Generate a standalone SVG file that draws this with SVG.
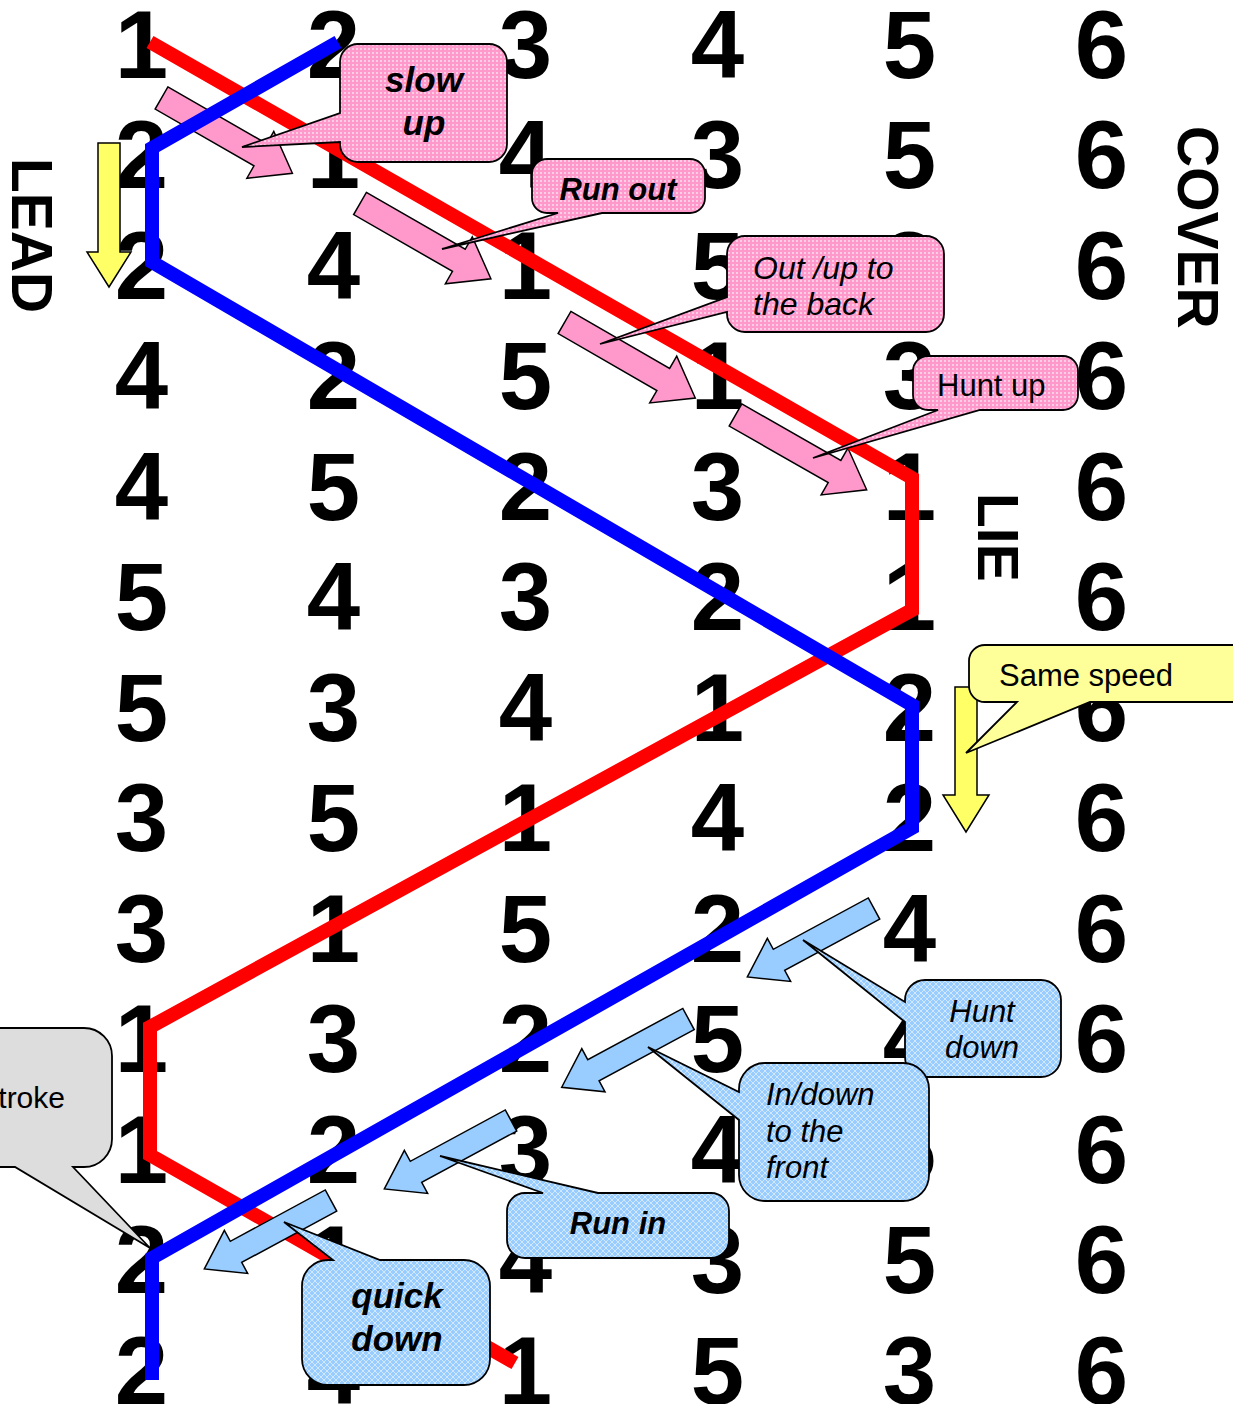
<svg xmlns="http://www.w3.org/2000/svg" xmlns:xlink="http://www.w3.org/1999/xlink" width="1233" height="1404" viewBox="0 0 1233 1404">
<defs>
<pattern id="pinkDots" width="4" height="4" patternUnits="userSpaceOnUse">
<rect width="4" height="4" fill="#FF99CC"/>
<circle cx="1" cy="1" r="0.9" fill="#FFFFFF" opacity="0.75"/>
</pattern>
<pattern id="blueHatch" width="6" height="6" patternUnits="userSpaceOnUse">
<rect width="6" height="6" fill="#99CCFF"/>
<path d="M0,0 L6,6 M6,0 L0,6" stroke="#FFFFFF" stroke-width="0.8" opacity="0.7"/>
</pattern>
<polygon id="pinkArrow" points="0,-12.75 114,-12.75 114,-27 151,0 114,27 114,12.75 0,12.75"/>
<polygon id="blueArrow" points="0,-12 108,-12 108,-24.5 144,0 108,24.5 108,12 0,12"/>
</defs>
<style>
.num{font-family:"Liberation Sans",Arial,sans-serif;font-weight:bold;font-size:96px;fill:#000;text-anchor:middle}
.lab{font-family:"Liberation Sans",Arial,sans-serif;font-weight:bold;font-size:57px;fill:#000}
.pa{fill:#FF99CC;stroke:#000;stroke-width:1.5;stroke-linejoin:miter}
.ba{fill:#99CCFF;stroke:#000;stroke-width:1.5;stroke-linejoin:miter}
.ya{fill:#FFFF66;stroke:#000;stroke-width:1.5}
.line{fill:none;stroke-width:14;stroke-linejoin:miter;stroke-linecap:butt}
.cp{fill:url(#pinkDots);stroke:#000;stroke-width:1.8}
.cb{fill:url(#blueHatch);stroke:#000;stroke-width:1.8}
.cy{fill:#FFFF99;stroke:#000;stroke-width:1.8}
.cg{fill:#DDDDDD;stroke:#000;stroke-width:1.8}
.t{font-family:"Liberation Sans",Arial,sans-serif;font-size:30px;fill:#000}
.big{font-size:35px}
.s31{font-size:31px}
.s32{font-size:32px}
.bi{font-weight:bold;font-style:italic}
.i{font-style:italic}
</style>
<rect width="1233" height="1404" fill="#FFFFFF"/>
<g id="grid">
<g id="row1"><text class="num" x="141.5" y="77.5">1</text><text class="num" x="333.5" y="77.5">2</text><text class="num" x="525.5" y="77.5">3</text><text class="num" x="717.5" y="77.5">4</text><text class="num" x="909.5" y="77.5">5</text><text class="num" x="1101.5" y="77.5">6</text></g>
<g id="row2"><text class="num" x="141.5" y="188">2</text><text class="num" x="333.5" y="188">1</text><text class="num" x="525.5" y="188">4</text><text class="num" x="717.5" y="188">3</text><text class="num" x="909.5" y="188">5</text><text class="num" x="1101.5" y="188">6</text></g>
<g id="row3"><text class="num" x="141.5" y="298.5">2</text><text class="num" x="333.5" y="298.5">4</text><text class="num" x="525.5" y="298.5">1</text><text class="num" x="717.5" y="298.5">5</text><text class="num" x="909.5" y="298.5">3</text><text class="num" x="1101.5" y="298.5">6</text></g>
<g id="row4"><text class="num" x="141.5" y="409">4</text><text class="num" x="333.5" y="409">2</text><text class="num" x="525.5" y="409">5</text><text class="num" x="717.5" y="409">1</text><text class="num" x="909.5" y="409">3</text><text class="num" x="1101.5" y="409">6</text></g>
<g id="row5"><text class="num" x="141.5" y="519.5">4</text><text class="num" x="333.5" y="519.5">5</text><text class="num" x="525.5" y="519.5">2</text><text class="num" x="717.5" y="519.5">3</text><text class="num" x="909.5" y="519.5">1</text><text class="num" x="1101.5" y="519.5">6</text></g>
<g id="row6"><text class="num" x="141.5" y="630">5</text><text class="num" x="333.5" y="630">4</text><text class="num" x="525.5" y="630">3</text><text class="num" x="717.5" y="630">2</text><text class="num" x="909.5" y="630">1</text><text class="num" x="1101.5" y="630">6</text></g>
<g id="row7"><text class="num" x="141.5" y="740.5">5</text><text class="num" x="333.5" y="740.5">3</text><text class="num" x="525.5" y="740.5">4</text><text class="num" x="717.5" y="740.5">1</text><text class="num" x="909.5" y="740.5">2</text><text class="num" x="1101.5" y="740.5">6</text></g>
<g id="row8"><text class="num" x="141.5" y="851">3</text><text class="num" x="333.5" y="851">5</text><text class="num" x="525.5" y="851">1</text><text class="num" x="717.5" y="851">4</text><text class="num" x="909.5" y="851">2</text><text class="num" x="1101.5" y="851">6</text></g>
<g id="row9"><text class="num" x="141.5" y="961.5">3</text><text class="num" x="333.5" y="961.5">1</text><text class="num" x="525.5" y="961.5">5</text><text class="num" x="717.5" y="961.5">2</text><text class="num" x="909.5" y="961.5">4</text><text class="num" x="1101.5" y="961.5">6</text></g>
<g id="row10"><text class="num" x="141.5" y="1072">1</text><text class="num" x="333.5" y="1072">3</text><text class="num" x="525.5" y="1072">2</text><text class="num" x="717.5" y="1072">5</text><text class="num" x="909.5" y="1072">4</text><text class="num" x="1101.5" y="1072">6</text></g>
<g id="row11"><text class="num" x="141.5" y="1182.5">1</text><text class="num" x="333.5" y="1182.5">2</text><text class="num" x="525.5" y="1182.5">3</text><text class="num" x="717.5" y="1182.5">4</text><text class="num" x="909.5" y="1182.5">5</text><text class="num" x="1101.5" y="1182.5">6</text></g>
<g id="row12"><text class="num" x="141.5" y="1293">2</text><text class="num" x="333.5" y="1293">1</text><text class="num" x="525.5" y="1293">4</text><text class="num" x="717.5" y="1293">3</text><text class="num" x="909.5" y="1293">5</text><text class="num" x="1101.5" y="1293">6</text></g>
<g id="row13"><text class="num" x="141.5" y="1403.5">2</text><text class="num" x="333.5" y="1403.5">4</text><text class="num" x="525.5" y="1403.5">1</text><text class="num" x="717.5" y="1403.5">5</text><text class="num" x="909.5" y="1403.5">3</text><text class="num" x="1101.5" y="1403.5">6</text></g>
</g>
<g id="labels">
<text class="lab" transform="translate(12,158) rotate(90)">LEAD</text>
<text class="lab" transform="translate(1178,126) rotate(90)">COVER</text>
<text class="lab" transform="translate(978,493) rotate(90)">LIE</text>
</g>
<g id="pink-arrows">
<use xlink:href="#pinkArrow" class="pa" transform="translate(161.5,98) rotate(29.9)"/>
<use xlink:href="#pinkArrow" class="pa" transform="translate(360,203.5) rotate(29.9)"/>
<use xlink:href="#pinkArrow" class="pa" transform="translate(564.5,322.5) rotate(30)"/>
<use xlink:href="#pinkArrow" class="pa" transform="translate(735.5,415) rotate(29.7)"/>
</g>
<g id="yellow-arrows">
<polygon class="ya" points="98,143 120,143 120,252 131,252 109,287 87,252 98,252"/>
<polygon class="ya" points="955,687 977,687 977,795 989,795 966,832 943,795 955,795"/>
</g>
<g id="connectors">
<polyline id="bell1" class="line" stroke="#FF0000" points="150,42 912,478 912,610 150,1027 150,1155 515,1363"/>
<polyline id="bell2" class="line" stroke="#0000FF" points="338,42 152,148 152,262 912,705 912,828 152,1258 152,1380"/>
</g>
<g id="blue-arrows">
<use xlink:href="#blueArrow" class="ba" transform="translate(874,908.5) rotate(151.6)"/>
<use xlink:href="#blueArrow" class="ba" transform="translate(688.5,1019) rotate(151.7)"/>
<use xlink:href="#blueArrow" class="ba" transform="translate(511,1120.5) rotate(151.6)"/>
<use xlink:href="#blueArrow" class="ba" transform="translate(331,1200.5) rotate(151.6)"/>
</g>
<g id="callout-slow-up">
<path class="cp" d="M358,44 H489 A18,18 0 0 1 507,62 V144 A18,18 0 0 1 489,162 H358 A18,18 0 0 1 340,144 V142 L242,147 L340,113 V62 A18,18 0 0 1 358,44 Z"/>
<text class="t bi big" text-anchor="middle" x="424" y="92">slow</text>
<text class="t bi big" text-anchor="middle" x="424" y="135">up</text>
</g>
<g id="callout-run-out">
<path class="cp" d="M547,159 H690 A15,15 0 0 1 705,174 V198 A15,15 0 0 1 690,213 H602 L442,249 L558,213 H547 A15,15 0 0 1 532,198 V174 A15,15 0 0 1 547,159 Z"/>
<text class="t bi s31" text-anchor="middle" x="618" y="200">Run out</text>
</g>
<g id="callout-out-up">
<path class="cp" d="M745,236 H926 A18,18 0 0 1 944,254 V314 A18,18 0 0 1 926,332 H745 A18,18 0 0 1 727,314 V312 L600,344 L727,297 V254 A18,18 0 0 1 745,236 Z"/>
<text class="t i s32" x="753" y="279">Out /up to</text>
<text class="t i s32" x="753" y="315">the back</text>
</g>
<g id="callout-hunt-up">
<path class="cp" d="M928,356 H1063 A15,15 0 0 1 1078,371 V395 A15,15 0 0 1 1063,410 H980 L813,458 L938,410 H928 A15,15 0 0 1 913,395 V371 A15,15 0 0 1 928,356 Z"/>
<text class="t s31" x="937" y="396">Hunt up</text>
</g>
<g id="callout-same-speed">
<path class="cy" d="M985,645 H1253 A16,16 0 0 1 1269,661 V686 A16,16 0 0 1 1253,702 H1090 L966,753 L1017,702 H985 A16,16 0 0 1 969,686 V661 A16,16 0 0 1 985,645 Z"/>
<text class="t s31" x="999" y="686">Same speed</text>
</g>
<g id="callout-hunt-down">
<path class="cb" d="M925,980 H1041 A20,20 0 0 1 1061,1000 V1057 A20,20 0 0 1 1041,1077 H925 A20,20 0 0 1 905,1057 V1022 L803,940 L905,1002 V1000 A20,20 0 0 1 925,980 Z"/>
<text class="t i s31" text-anchor="middle" x="982" y="1022">Hunt</text>
<text class="t i s31" text-anchor="middle" x="982" y="1058">down</text>
</g>
<g id="callout-in-down">
<path class="cb" d="M765,1063 H903 A26,26 0 0 1 929,1089 V1175 A26,26 0 0 1 903,1201 H765 A26,26 0 0 1 739,1175 V1120 L648,1047 L739,1092 V1089 A26,26 0 0 1 765,1063 Z"/>
<text class="t i s31" x="766" y="1105">In/down</text>
<text class="t i s31" x="766" y="1142">to the</text>
<text class="t i s31" x="766" y="1178">front</text>
</g>
<g id="callout-run-in">
<path class="cb" d="M525,1193 H543 L440,1156 L598,1193 H711 A18,18 0 0 1 729,1211 V1240 A18,18 0 0 1 711,1258 H525 A18,18 0 0 1 507,1240 V1211 A18,18 0 0 1 525,1193 Z"/>
<text class="t bi s31" text-anchor="middle" x="618" y="1234">Run in</text>
</g>
<g id="callout-quick-down">
<path class="cb" d="M328,1260 H333 L284,1222 L380,1260 H464 A26,26 0 0 1 490,1286 V1359 A26,26 0 0 1 464,1385 H328 A26,26 0 0 1 302,1359 V1286 A26,26 0 0 1 328,1260 Z"/>
<text class="t bi big" text-anchor="middle" x="397" y="1308">quick</text>
<text class="t bi big" text-anchor="middle" x="397" y="1351">down</text>
</g>
<g id="callout-stroke">
<path class="cg" d="M-12,1028 H84 A28,28 0 0 1 112,1056 V1139 A28,28 0 0 1 84,1167 H73 L150,1248 L15,1167 H-12 A28,28 0 0 1 -40,1139 V1056 A28,28 0 0 1 -12,1028 Z"/>
<text class="t" text-anchor="end" x="65" y="1108">troke</text>
</g>
</svg>
